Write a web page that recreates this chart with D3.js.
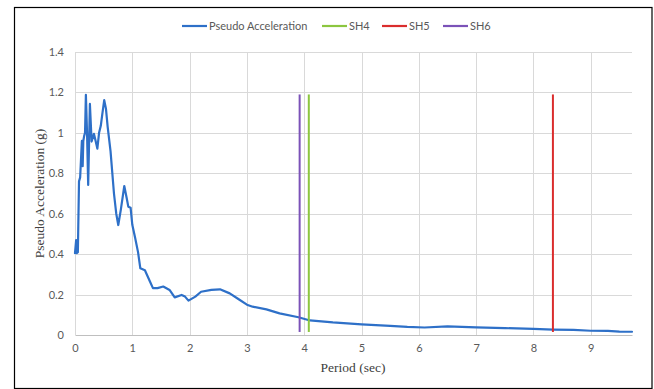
<!DOCTYPE html>
<html><head><meta charset="utf-8">
<script src="https://cdn.jsdelivr.net/npm/d3@7"></script>
<style>
html,body{margin:0;padding:0;background:#fff;}
svg{display:block;}
</style></head>
<body>
<svg id="chart" width="654" height="389"></svg>
<script>
// ---- data ----
const period = [0, 0.02, 0.03, 0.05, 0.07, 0.09, 0.11, 0.12, 0.134, 0.145, 0.16, 0.175, 0.19, 0.21, 0.23, 0.26, 0.29, 0.33, 0.36, 0.39, 0.42, 0.45, 0.48, 0.51, 0.54, 0.57, 0.62, 0.68, 0.72, 0.755, 0.8, 0.86, 0.9, 0.93, 0.97, 1.0, 1.05, 1.1, 1.14, 1.22, 1.3, 1.36, 1.44, 1.54, 1.65, 1.74, 1.86, 1.92, 1.98, 2.1, 2.2, 2.38, 2.53, 2.7, 2.85, 3.0, 3.1, 3.34, 3.57, 3.9, 4.1, 4.5, 5.0, 5.5, 5.8, 6.1, 6.5, 7.0, 7.5, 8.0, 8.34, 8.7, 9.0, 9.3, 9.5, 9.72];
const pseudoAccel = [0.405, 0.47, 0.405, 0.41, 0.76, 0.78, 0.90, 0.96, 0.835, 0.96, 0.985, 1.0, 1.188, 1.0, 0.742, 1.143, 0.957, 0.995, 0.96, 0.922, 1.0, 1.035, 1.10, 1.162, 1.12, 1.03, 0.91, 0.7, 0.6, 0.544, 0.62, 0.737, 0.68, 0.635, 0.63, 0.545, 0.48, 0.41, 0.33, 0.32, 0.27, 0.232, 0.232, 0.24, 0.223, 0.186, 0.198, 0.19, 0.17, 0.19, 0.214, 0.223, 0.226, 0.206, 0.178, 0.15, 0.14, 0.127, 0.107, 0.088, 0.072, 0.062, 0.053, 0.045, 0.04, 0.037, 0.043, 0.038, 0.034, 0.03, 0.027, 0.025, 0.021, 0.02, 0.017, 0.016];
const markerNames = ["SH4", "SH5", "SH6"];
const markerPeriods = [4.08, 8.34, 3.92];
const markerRange = [0.015, 1.19];
const xTicks = [0, 1, 2, 3, 4, 5, 6, 7, 8, 9];
const yTicks = [0, 0.2, 0.4, 0.6, 0.8, 1, 1.2, 1.4];
const legendNames = ["Pseudo Acceleration", "SH4", "SH5", "SH6"];

// ---- styles ----
const colors = {"Pseudo Acceleration": "#2E70C8", "SH4": "#8CC63F", "SH5": "#DA2D2D", "SH6": "#7B52B8"};

const svg = d3.select("#chart");
const margin = {left: 75, right: 22, top: 52, bottom: 54};
const W = 654, H = 389;
const x = d3.scaleLinear().domain([0, 9.72]).range([margin.left, W - margin.right]);
const y = d3.scaleLinear().domain([0, 1.4]).range([H - margin.bottom, margin.top]);

// outer border
svg.append("rect").attr("x", 14.5).attr("y", 7.5).attr("width", 637.5).attr("height", 381)
  .attr("fill", "none").attr("stroke", "#000").attr("stroke-width", 1.2);

// gridlines
const g = svg.append("g");
g.selectAll("line.h").data(yTicks.filter(d => d > 0)).enter().append("line")
  .attr("x1", x(0)).attr("x2", x(9.72)).attr("y1", d => Math.round(y(d)) + 0.5).attr("y2", d => Math.round(y(d)) + 0.5)
  .attr("stroke", "#D9D9D9").attr("stroke-width", 1);
g.selectAll("line.v").data(xTicks).enter().append("line")
  .attr("y1", y(0)).attr("y2", y(1.4)).attr("x1", d => Math.round(x(d)) + 0.5).attr("x2", d => Math.round(x(d)) + 0.5)
  .attr("stroke", "#D9D9D9").attr("stroke-width", 1);

// x axis
const xAxis = d3.axisBottom(x).tickValues(xTicks).tickSize(0).tickPadding(9).tickFormat(d3.format("d"));
const xa = svg.append("g").attr("transform", `translate(0,${y(0)})`).call(xAxis);
xa.select(".domain").attr("stroke", "#BFBFBF");
xa.selectAll("text").attr("fill", "#595959").style("font-family", "Lato, 'Open Sans', sans-serif").style("font-size", "11px");

// y axis
const yAxis = d3.axisLeft(y).tickValues(yTicks).tickSize(0).tickPadding(11).tickFormat(d => d3.format("")(d));
const ya = svg.append("g").attr("transform", `translate(${x(0)},0)`).call(yAxis);
ya.select(".domain").remove();
ya.selectAll("text").attr("fill", "#595959").style("font-family", "Lato, 'Open Sans', sans-serif").style("font-size", "11px");

// axis titles
svg.append("text").attr("x", (x(0) + x(9.72)) / 2 - 0.5).attr("y", 372).attr("text-anchor", "middle")
  .style("font-family", "'Liberation Serif', 'Times New Roman', serif").style("font-size", "13.5px").attr("fill", "#404040")
  .text("Period (sec)");
svg.append("text").attr("transform", `translate(44,${(y(0) + y(1.4)) / 2}) rotate(-90)`).attr("text-anchor", "middle")
  .style("font-family", "'Liberation Serif', 'Times New Roman', serif").style("font-size", "13.5px").attr("fill", "#404040")
  .text("Pseudo Acceleration (g)");

// main line
const series = period.map((p, i) => [p, pseudoAccel[i]]);
svg.append("path").datum(series)
  .attr("d", d3.line().x(d => x(d[0])).y(d => y(d[1])))
  .attr("fill", "none").attr("stroke", colors["Pseudo Acceleration"]).attr("stroke-width", 2.2)
  .attr("stroke-linejoin", "round").attr("stroke-linecap", "round");

// marker lines
markerNames.forEach((n, i) => {
  svg.append("line")
    .attr("x1", x(markerPeriods[i])).attr("x2", x(markerPeriods[i]))
    .attr("y1", y(markerRange[0])).attr("y2", y(markerRange[1]))
    .attr("stroke", colors[n]).attr("stroke-width", 2);
});

// legend
const legendX = [182, 322, 382, 443];
const leg = svg.append("g");
legendNames.forEach((n, i) => {
  leg.append("line").attr("x1", legendX[i]).attr("x2", legendX[i] + 25).attr("y1", 26).attr("y2", 26)
    .attr("stroke", colors[n]).attr("stroke-width", 2.2);
  leg.append("text").attr("x", legendX[i] + 27).attr("y", 26).attr("dy", "0.35em")
    .style("font-family", "Lato, 'Open Sans', sans-serif").style("font-size", "11px").attr("fill", "#595959")
    .text(n);
});
</script>
</body></html>
